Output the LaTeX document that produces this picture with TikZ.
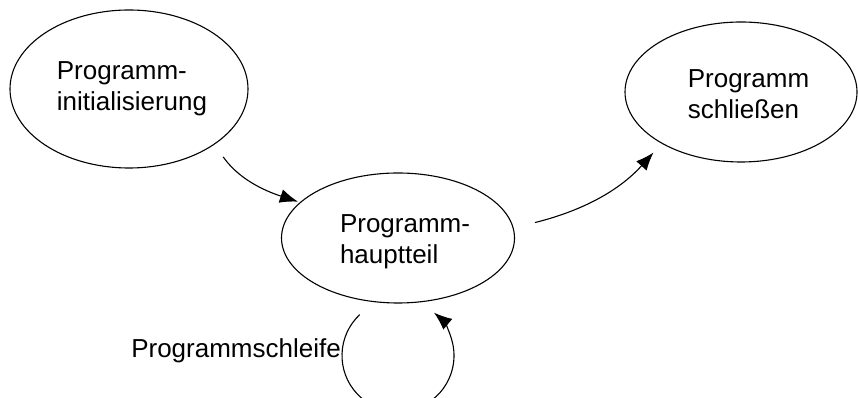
\documentclass[tikz,border=0pt]{standalone}
\usepackage{fontspec}
\setmainfont{Liberation Sans}
\usetikzlibrary{shapes.geometric,arrows.meta,calc}
\begin{document}
\begin{tikzpicture}[x=1pt,y=1pt,
  state/.style={ellipse,draw,line width=1.1pt,inner sep=0pt},
  caption/.style={align=left,inner sep=0pt,font=\fontsize{26}{31}\selectfont},
  flow/.style={line width=1.1pt,-{Latex[length=18pt,width=14pt]}}]
\useasboundingbox (0,0) rectangle (858,398);
\clip (0,0) rectangle (858,398);

% states
\node[state,minimum width=238pt,minimum height=158pt] (init)  at (129,309) {};
\node[state,minimum width=233pt,minimum height=130pt] (main)  at (398,160) {};
\node[state,minimum width=232pt,minimum height=140pt] (close) at (741,306) {};

% state texts
\node[caption] (initText)  at ($(init)+(3,0)$)    {Programm-\\initialisierung};
\node[caption] (mainText)  at ($(main)+(7,-4)$)   {Programm-\\hauptteil};
\node[caption] (closeText) at ($(close)+(7.5,-2)$) {Programm\\schließen};

% transitions
\draw[flow,shorten <=15pt,shorten >=2pt] (init.-33) to[out=-55,in=162] (main.160);
\draw[flow,shorten <=22pt,shorten >=12pt] (main.5) to[out=14,in=-132] (close.-147);

% loop below the main part
\coordinate (loopc) at ($(main.south)+(0,-52)$);
\draw[flow] ($(loopc)+(133:56)$) arc[start angle=133,end angle=410,radius=56];
\node[caption,anchor=base east] (loopLabel) at (341,40) {Programmschleife};
\end{tikzpicture}
\end{document}
